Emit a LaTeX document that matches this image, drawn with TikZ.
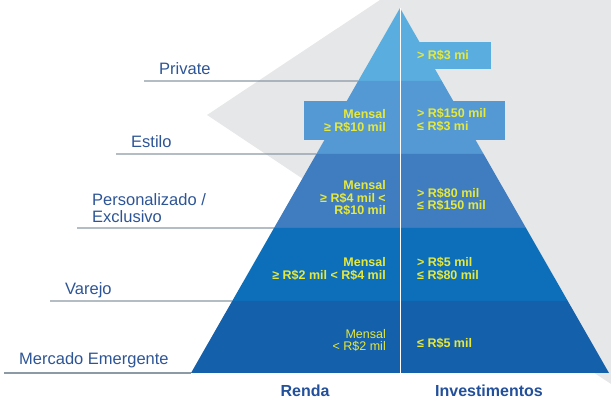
\documentclass[tikz,border=0pt]{standalone}
\usepackage{fontspec}
\setmainfont{Liberation Sans}
\usetikzlibrary{calc}

\definecolor{bgGrey}{HTML}{E6E7E8}
\definecolor{guideGrey}{HTML}{8C9AA5}
\definecolor{labelBlue}{HTML}{2D5596}
\definecolor{headBlue}{HTML}{23509A}
\definecolor{valYellow}{HTML}{E6E83C}
\definecolor{tierA}{HTML}{5AAEDF}
\definecolor{tierB}{HTML}{5499D3}
\definecolor{tierC}{HTML}{3F7CC0}
\definecolor{tierD}{HTML}{0D6FBA}
\definecolor{tierE}{HTML}{1560AB}

\begin{document}
\begin{tikzpicture}[x=1pt, y=-1pt,
        guide/.style={draw=guideGrey, line width=1.3pt},
        level/.style={anchor=base west, inner sep=0pt, align=left, text=labelBlue,
                font=\fontsize{16.5}{17}\selectfont},
        valueL/.style={anchor=east, inner sep=0pt, align=right, text=valYellow,
                font=\bfseries\fontsize{12.5}{12.5}\selectfont},
        valueR/.style={anchor=west, inner sep=0pt, align=left, text=valYellow,
                font=\bfseries\fontsize{12.5}{12.5}\selectfont},
        head/.style={inner sep=0pt, text=headBlue, font=\bfseries\fontsize{16}{16}\selectfont}
    ]
    \useasboundingbox (0,0) rectangle (611,403);

    % Grey wedge behind the pyramid
    \fill[bgGrey] (380,0) -- (611,0) -- (611,384) -- (207,115) -- cycle;

    % Apex and base corners of the pyramid
    \coordinate (apex) at (400,8);
    \coordinate (baseL) at (191,373);
    \coordinate (baseR) at (609,373);
    \coordinate (baseM) at (400,373);

    % Guide lines and level names on the left
    \foreach \x/\y/\ly/\name/\txt in {144/81/75/private/Private,
            116/154/147.5/estilo/Estilo,
            77/228/222.5/pers/{Personalizado /\\Exclusivo},
            50/301/295/varejo/Varejo,
            4/373/364.5/emerg/{Mercado Emergente}} {
            \coordinate (g-\name-a) at (\x,\y);
            \coordinate (g-\name-b) at ($(apex)!{(\y-8)/365}!(baseL)$);
            \draw[guide] (g-\name-a) -- (g-\name-b);
            \node[level] (n-\name) at (\x+15,\ly) {\txt};
        }

    % Pyramid bands, one colour per level
    \foreach \top/\bot/\col in {8/81/tierA, 81/154/tierB, 154/228/tierC,
            228/301/tierD, 301/373/tierE} {
            \fill[\col] ($(apex)!{(\top-8)/365}!(baseL)$) -- ($(apex)!{(\bot-8)/365}!(baseL)$)
            -- ($(apex)!{(\bot-8)/365}!(baseR)$) -- ($(apex)!{(\top-8)/365}!(baseR)$) -- cycle;
        }

    % Tabs sticking out of the two top bands
    \fill[tierA] (395,42) rectangle (491,69);
    \fill[tierB] (304,101) rectangle (505,140);

    % Divider between Renda and Investimentos
    \draw[white, line width=1pt] (apex) -- (baseM);

    % Renda values
    \node[valueL] (r2) at (386,121) {Mensal\\≥ R\$10 mil};
    \node[valueL] (r3) at (386,198) {Mensal\\≥ R\$4 mil <\\R\$10 mil};
    \node[valueL] (r4) at (386,269) {Mensal\\≥ R\$2 mil < R\$4 mil};
    \node[valueL, font=\fontsize{12.5}{12.5}\selectfont] (r5) at (386,340.5) {Mensal\\< R\$2 mil};

    % Investimentos values
    \node[valueR] (i1) at (417,55) {> R\$3 mi};
    \node[valueR] (i2) at (417,120) {> R\$150 mil\\≤ R\$3 mi};
    \node[valueR] (i3) at (417,199.5) {> R\$80 mil\\≤ R\$150 mil};
    \node[valueR] (i4) at (417,269) {> R\$5 mil\\≤ R\$80 mil};
    \node[valueR] (i5) at (417,343) {≤ R\$5 mil};

    % Column headings
    \node[head] (renda) at (305,391) {Renda};
    \node[head] (invest) at (489,391) {Investimentos};
\end{tikzpicture}
\end{document}
